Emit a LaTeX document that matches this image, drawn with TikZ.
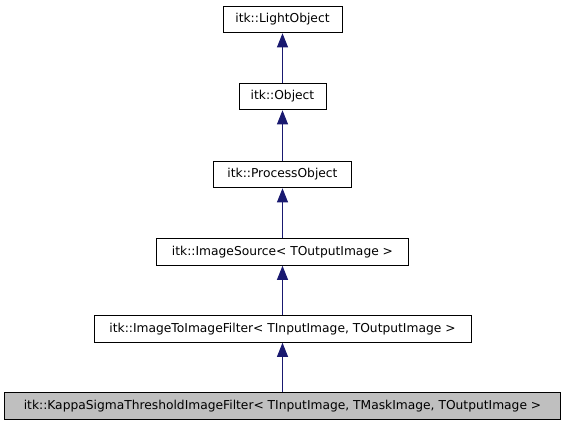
\documentclass[tikz,border=0pt]{standalone}
\usepackage{fontspec}
\setmainfont{DejaVu Sans}
\usetikzlibrary{arrows.meta}
\definecolor{edgeblue}{HTML}{191970}
\definecolor{boxgray}{HTML}{BFBFBF}
\tikzset{
  cls/.style={draw=black, fill=white, line width=0.75pt, minimum height=20pt, inner sep=0pt, font=\fontsize{9.2}{11}\selectfont, text=black},
  cur/.style={cls, fill=boxgray},
  inh/.style={draw=edgeblue, line width=0.75pt, -{Triangle[length=10.5pt,width=8.25pt,fill=edgeblue]}}
}
\begin{document}
\begin{tikzpicture}[x=0.75pt,y=-0.75pt]
\useasboundingbox (0,0) rectangle (565,427);
\node[cls, minimum width=89.25pt] (lo) at (282.5,19.5) {itk::LightObject};
\node[cls, minimum width=65.25pt] (ob) at (282.5,96.5) {itk::Object};
\node[cls, minimum width=103.5pt] (po) at (282.5,174.5) {itk::ProcessObject};
\node[cls, minimum width=189pt] (is) at (282.5,252) {itk::ImageSource< TOutputImage >};
\node[cls, minimum width=282.75pt] (ii) at (282.5,329) {itk::ImageToImageFilter< TInputImage, TOutputImage >};
\node[cur, minimum width=417pt] (ks) at (282.5,406) {itk::KappaSigmaThresholdImageFilter< TInputImage, TMaskImage, TOutputImage >};
\draw[inh] (ob.north) -- (lo.south);
\draw[inh] (po.north) -- (ob.south);
\draw[inh] (is.north) -- (po.south);
\draw[inh] (ii.north) -- (is.south);
\draw[inh] (ks.north) -- (ii.south);
\end{tikzpicture}
\end{document}
